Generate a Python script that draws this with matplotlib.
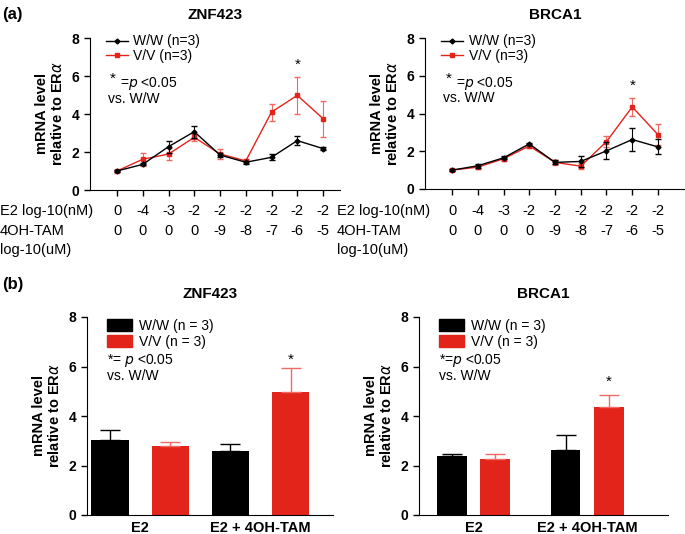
import matplotlib
matplotlib.use("Agg")
import matplotlib.pyplot as plt
import matplotlib.transforms as mtransforms
from matplotlib.patches import Patch
from matplotlib.lines import Line2D
import numpy as np

plt.rcParams['font.family'] = ['Liberation Sans', 'DejaVu Sans']

RED = '#e3241b'
RED_ERR = '#ee6a62'

# (a) dose-response data
e2_dose = ['0', '-4', '-3', '-2', '-2', '-2', '-2', '-2', '-2']
tam_dose = ['0', '0', '0', '0', '-9', '-8', '-7', '-6', '-5']

znf_ww = [1.0, 1.35, 2.28, 3.07, 1.84, 1.46, 1.72, 2.60, 2.18]
znf_ww_err = [0.05, 0.06, 0.32, 0.32, 0.12, 0.08, 0.15, 0.25, 0.10]
znf_vv = [1.0, 1.62, 1.89, 2.77, 1.90, 1.53, 4.10, 4.98, 3.76]
znf_vv_err = [0.05, 0.35, 0.30, 0.18, 0.25, 0.10, 0.45, 0.97, 0.95]

brca_ww = [1.0, 1.23, 1.65, 2.39, 1.41, 1.46, 2.02, 2.62, 2.23]
brca_ww_err = [0.04, 0.10, 0.08, 0.05, 0.10, 0.30, 0.45, 0.62, 0.40]
brca_vv = [1.0, 1.16, 1.60, 2.28, 1.41, 1.21, 2.51, 4.35, 2.88]
brca_vv_err = [0.04, 0.10, 0.10, 0.12, 0.12, 0.15, 0.30, 0.48, 0.55]

# (b) bar data
groups = ['E2', 'E2 + 4OH-TAM']
bar_znf_ww = [3.05, 2.60]
bar_znf_ww_err = [0.40, 0.25]
bar_znf_vv = [2.77, 4.95]
bar_znf_vv_err = [0.17, 1.00]
bar_brca_ww = [2.40, 2.62]
bar_brca_ww_err = [0.05, 0.62]
bar_brca_vv = [2.25, 4.37]
bar_brca_vv_err = [0.20, 0.48]

ylabel = 'mRNA level\nrelative to ER$\\alpha$'

fig = plt.figure(figsize=(6.85, 5.34), dpi=100)


def style_axis(ax):
    ax.spines['top'].set_visible(False)
    ax.spines['right'].set_visible(False)
    ax.set_ylim(0, 8)
    ax.set_yticks([0, 2, 4, 6, 8])
    ax.tick_params(axis='y', labelsize=10, length=4, width=1)
    for lab in ax.get_yticklabels():
        lab.set_fontweight('bold')
    ax.set_ylabel(ylabel, fontsize=10.5, fontweight='bold', linespacing=1.1, labelpad=5)


def line_panel(rect, title, ww, ww_err, vv, vv_err, star_y, xmax):
    ax = fig.add_axes(rect)
    x = np.arange(len(ww))
    ax.errorbar(x, ww, yerr=ww_err, color='black', marker='D', markersize=2.5,
                lw=1, capsize=2, elinewidth=0.8, zorder=3)
    ax.errorbar(x, vv, yerr=vv_err, color=RED, ecolor=RED_ERR, marker='s', markersize=3,
                lw=1, capsize=2, elinewidth=0.8, zorder=2)
    style_axis(ax)
    ax.set_xlim(-1.05, xmax)
    ax.set_xticks(x)
    ax.set_xticklabels([])
    ax.tick_params(axis='x', length=4, width=1)
    ax.set_title(title, fontsize=11, fontweight='bold', pad=14)
    ax.text(7, star_y, '*', ha='center', va='center', fontsize=11)
    handles = [Line2D([0], [0], color='black', marker='D', markersize=2.5, lw=1),
               Line2D([0], [0], color=RED, marker='s', markersize=3, lw=1)]
    ax.legend(handles, ['W/W (n=3)', 'V/V (n=3)'], loc='upper left',
              bbox_to_anchor=(0.04, 1.06), frameon=False, fontsize=10,
              handlelength=1.6, handletextpad=0.4, labelspacing=0.05, borderaxespad=0)
    ax.text(0.08, 0.73, '*', transform=ax.transAxes, fontsize=11, va='center')
    ax.text(0.12, 0.70, '=$p$ <0.05', transform=ax.transAxes, fontsize=10, va='center')
    ax.text(0.07, 0.60, 'vs. W/W', transform=ax.transAxes, fontsize=10, va='center')
    # dose table under the axis
    tr = mtransforms.blended_transform_factory(ax.transData, fig.transFigure)
    for i in range(len(e2_dose)):
        ax.text(i, 1 - 211 / 534, e2_dose[i], transform=tr, ha='center', va='center', fontsize=10.5)
        ax.text(i, 1 - 231 / 534, tam_dose[i], transform=tr, ha='center', va='center', fontsize=10.5)
    return ax


axL = line_panel([90 / 685, 1 - 190 / 534, 250 / 685, 152 / 534], 'ZNF423',
                 znf_ww, znf_ww_err, znf_vv, znf_vv_err, 6.6, 8.66)
axR = line_panel([425 / 685, 1 - 189 / 534, 260 / 685, 151 / 534], 'BRCA1',
                 brca_ww, brca_ww_err, brca_vv, brca_vv_err, 5.45, 9.05)

for xpos in [0.0, 337 / 685]:
    fig.text(xpos, 1 - 211 / 534, 'E2 log-10(nM)', fontsize=10.5, va='center')
    fig.text(xpos, 1 - 231 / 534, '4OH-TAM', fontsize=10.5, va='center')
    fig.text(xpos, 1 - 250 / 534, 'log-10(uM)', fontsize=10.5, va='center')


def bar_panel(rect, title, ww, ww_err, vv, vv_err, star_y, width, off, xlim, star_txt):
    ax = fig.add_axes(rect)
    x = np.arange(len(groups))
    ax.bar(x - off, ww, width, color='black',
           yerr=[[0] * len(ww), ww_err], error_kw=dict(ecolor='black', capsize=7, elinewidth=1, capthick=1))
    ax.bar(x + off, vv, width, color=RED,
           yerr=[[0] * len(vv), vv_err], error_kw=dict(ecolor=RED_ERR, capsize=7, elinewidth=1, capthick=1))
    style_axis(ax)
    ax.set_xlim(*xlim)
    ax.set_xticks(x)
    ax.set_xticklabels(groups, fontsize=10.5, fontweight='bold')
    ax.tick_params(axis='x', length=0, pad=4)
    ax.set_title(title, fontsize=11, fontweight='bold', pad=14)
    ax.text(1 + off, star_y, '*', ha='center', va='center', fontsize=11)
    handles = [Patch(color='black'), Patch(color=RED)]
    ax.legend(handles, ['W/W (n = 3)', 'V/V (n = 3)'], loc='upper left',
              bbox_to_anchor=(0.06, 1.02), frameon=False, fontsize=10,
              handlelength=1.8, handleheight=0.9, handletextpad=0.5,
              labelspacing=0.15, borderaxespad=0)
    ax.text(0.08, 0.78, star_txt, transform=ax.transAxes, fontsize=10, va='center')
    ax.text(0.08, 0.70, 'vs. W/W', transform=ax.transAxes, fontsize=10, va='center')
    return ax


bar_panel([87 / 685, 1 - 515 / 534, 246 / 685, 198 / 534], 'ZNF423',
          bar_znf_ww, bar_znf_ww_err, bar_znf_vv, bar_znf_vv_err, 6.26,
          0.31, 0.25, (-0.44, 1.6), '*= $p$ <0.05')
bar_panel([419 / 685, 1 - 515 / 534, 249 / 685, 198 / 534], 'BRCA1',
          bar_brca_ww, bar_brca_ww_err, bar_brca_vv, bar_brca_vv_err, 5.37,
          0.26, 0.19, (-0.48, 1.71), '*=$p$ <0.05')

fig.text(0.003, 1 - 14 / 534, '(a)', fontsize=12, fontweight='bold', va='center')
fig.text(0.003, 1 - 285 / 534, '(b)', fontsize=12, fontweight='bold', va='center')

fig.savefig('out.png', dpi=100)
